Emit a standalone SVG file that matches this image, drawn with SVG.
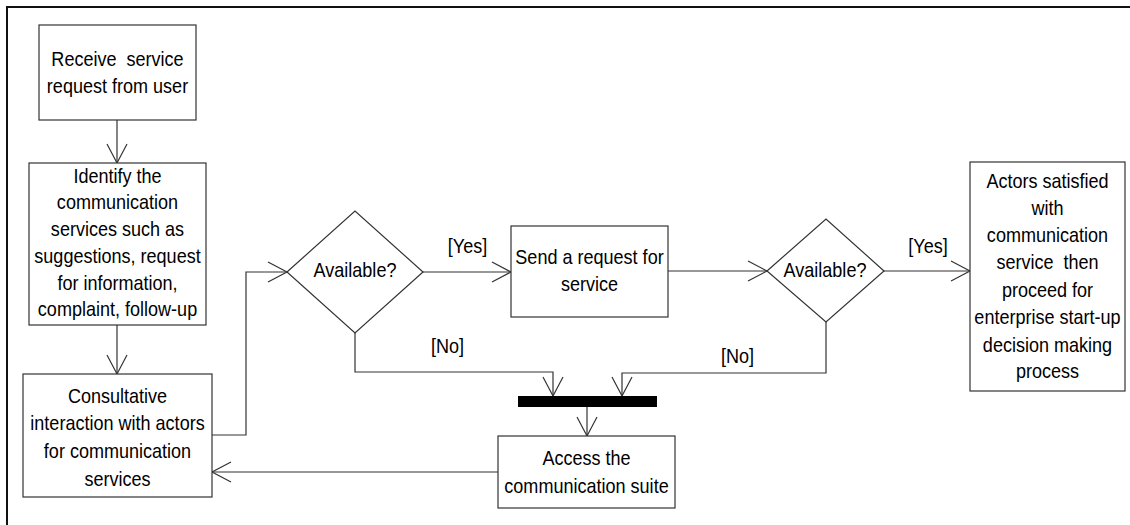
<svg xmlns="http://www.w3.org/2000/svg" width="1130" height="525" viewBox="0 0 1130 525">
<style>
.box{fill:#fff;stroke:#333;stroke-width:1.2}
.t{font-family:"Liberation Sans",Arial,sans-serif;font-size:20.5px;fill:#000;text-anchor:middle;white-space:pre}
.c{fill:none;stroke:#333;stroke-width:1.2}
</style>
<defs>
<marker id="ah" markerUnits="userSpaceOnUse" viewBox="-22 -12 24 24" refX="0" refY="0" markerWidth="24" markerHeight="24" orient="auto">
<path d="M-19,-10 L0,0 L-19,10" fill="none" stroke="#333" stroke-width="1.2"/>
</marker>
</defs>
<rect width="1130" height="525" fill="#fff"/>
<path d="M7,525 L7,7 L1130,7" fill="none" stroke="#111" stroke-width="2"/>
<g id="connectors">
<path class="c" d="M117,120 L117,163" marker-end="url(#ah)"/>
<path class="c" d="M117,325 L117,374" marker-end="url(#ah)"/>
<path class="c" d="M212,435 L246,435 L246,272 L287,272" marker-end="url(#ah)"/>
<path class="c" d="M423,272 L511,272" marker-end="url(#ah)"/>
<path class="c" d="M668,271 L767,271" marker-end="url(#ah)"/>
<path class="c" d="M884,271 L970,271" marker-end="url(#ah)"/>
<path class="c" d="M355,333 L355,372 L553,372 L553,396" marker-end="url(#ah)"/>
<path class="c" d="M826,322 L826,373 L622,373 L622,396" marker-end="url(#ah)"/>
<path class="c" d="M587,407 L587,436" marker-end="url(#ah)"/>
<path class="c" d="M498,472 L212,472" marker-end="url(#ah)"/>
<text class="t" transform="translate(467.5,253) scale(0.88,1)">[Yes]</text>
<text class="t" transform="translate(928,253) scale(0.88,1)">[Yes]</text>
<text class="t" transform="translate(447.5,353) scale(0.88,1)">[No]</text>
<text class="t" transform="translate(737.5,363) scale(0.88,1)">[No]</text>
</g>
<g id="receive">
<rect class="box" x="39" y="25" width="157" height="95"/>
<text class="t" transform="translate(117.5,66) scale(0.88,1)">Receive  service</text>
<text class="t" transform="translate(117.5,93) scale(0.88,1)">request from user</text>
</g>
<g id="identify">
<rect class="box" x="29" y="163" width="177" height="162"/>
<text class="t" transform="translate(117.5,183) scale(0.88,1)">Identify the</text>
<text class="t" transform="translate(117.5,209) scale(0.88,1)">communication</text>
<text class="t" transform="translate(117.5,236) scale(0.88,1)">services such as</text>
<text class="t" transform="translate(117.5,263) scale(0.88,1)">suggestions, request</text>
<text class="t" transform="translate(117.5,290) scale(0.88,1)">for information,</text>
<text class="t" transform="translate(117.5,316) scale(0.88,1)">complaint, follow-up</text>
</g>
<g id="consult">
<rect class="box" x="23" y="374" width="189" height="123"/>
<text class="t" transform="translate(117.5,403) scale(0.88,1)">Consultative</text>
<text class="t" transform="translate(117.5,430) scale(0.88,1)">interaction with actors</text>
<text class="t" transform="translate(117.5,458) scale(0.88,1)">for communication</text>
<text class="t" transform="translate(117.5,486) scale(0.88,1)">services</text>
</g>
<g id="avail1">
<polygon class="box" points="287,272 355,211 423,272 355,333"/>
<text class="t" transform="translate(355,277) scale(0.88,1)">Available?</text>
</g>
<g id="send">
<rect class="box" x="511" y="226" width="157" height="91"/>
<text class="t" transform="translate(589.5,264) scale(0.88,1)">Send a request for</text>
<text class="t" transform="translate(589.5,291) scale(0.88,1)">service</text>
</g>
<g id="avail2">
<polygon class="box" points="767,271 826,219 884,271 826,322"/>
<text class="t" transform="translate(825,277) scale(0.88,1)">Available?</text>
</g>
<g id="actors">
<rect class="box" x="970" y="162" width="155" height="229"/>
<text class="t" transform="translate(1047.5,188) scale(0.88,1)">Actors satisfied</text>
<text class="t" transform="translate(1047.5,215) scale(0.88,1)">with</text>
<text class="t" transform="translate(1047.5,242) scale(0.88,1)">communication</text>
<text class="t" transform="translate(1047.5,269) scale(0.88,1)">service  then</text>
<text class="t" transform="translate(1047.5,297) scale(0.88,1)">proceed for</text>
<text class="t" transform="translate(1047.5,324) scale(0.88,1)">enterprise start-up</text>
<text class="t" transform="translate(1047.5,352) scale(0.88,1)">decision making</text>
<text class="t" transform="translate(1047.5,378) scale(0.88,1)">process</text>
</g>
<g id="join">
<rect x="518" y="396" width="139" height="11" fill="#000"/>
</g>
<g id="access">
<rect class="box" x="498" y="436" width="177" height="72"/>
<text class="t" transform="translate(586.5,465) scale(0.88,1)">Access the</text>
<text class="t" transform="translate(586.5,493) scale(0.88,1)">communication suite</text>
</g>
</svg>
